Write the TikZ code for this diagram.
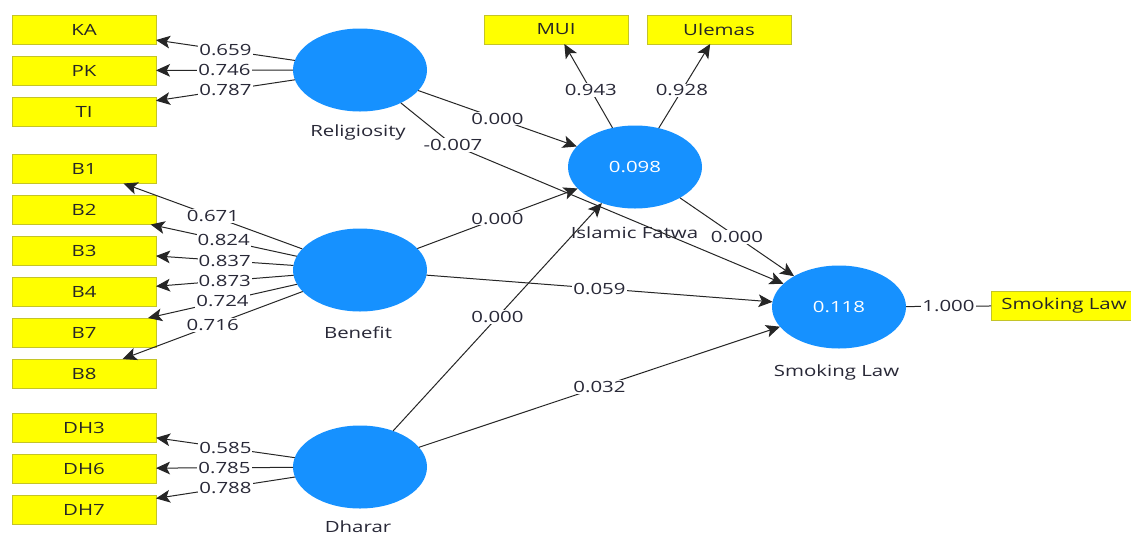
\documentclass[tikz,border=0pt]{standalone}
\usepackage{fontspec}
\setmainfont{Open Sans}[FakeStretch=1.32]
\usetikzlibrary{shapes.geometric,arrows.meta}
\definecolor{lvblue}{RGB}{22,145,255}
\definecolor{ind}{RGB}{255,255,0}
\definecolor{indborder}{RGB}{196,196,40}
\definecolor{txt}{RGB}{40,40,55}
\begin{document}
\begin{tikzpicture}[x=0.75pt,y=-0.75pt,
  font=\fontsize{11.6}{13}\selectfont,
  lv/.style={ellipse, fill=lvblue, minimum width=100.5pt, minimum height=62.25pt, inner sep=0pt, outer sep=0pt, text=white},
  mv/.style={rectangle, fill=ind, draw=indborder, line width=0.6pt, minimum width=108pt, minimum height=21.75pt, inner sep=0pt, outer sep=0pt, text=black!85},
  lvname/.style={text=txt, inner sep=0pt},
  lab/.style={fill=white, inner sep=0.8pt, text=txt},
  conn/.style={draw=black!85, line width=0.75pt, -{Stealth[length=10.5pt,width=9.5pt,inset=2.5pt]}},
  plainconn/.style={draw=black!85, line width=0.75pt}]
\fill[white] (0,0) rectangle (1131,536);
\useasboundingbox (0,0) rectangle (1131,536);
% indicators
\node[mv] (ka) at (84,29.5) {KA};
\node[mv] (pk) at (84,70.5) {PK};
\node[mv] (ti) at (84,111.5) {TI};
\node[mv] (b1) at (84,169) {B1};
\node[mv] (b2) at (84,210) {B2};
\node[mv] (b3) at (84,251) {B3};
\node[mv] (b4) at (84,292) {B4};
\node[mv] (b7) at (84,332.5) {B7};
\node[mv] (b8) at (84,373.5) {B8};
\node[mv] (dh3) at (84,427.5) {DH3};
\node[mv] (dh6) at (84,468.5) {DH6};
\node[mv] (dh7) at (84,509.5) {DH7};
\node[mv] (mui) at (556,29.5) {MUI};
\node[mv] (ule) at (719,29.5) {Ulemas};
\node[mv, anchor=west] (slbox) at (991,305.5) {\hspace{1.5pt}Smoking Law\hspace{4pt}};
% latent variables
\node[lv] (rel) at (360,70) {};
\node[lv] (ben) at (360,270) {};
\node[lv] (dha) at (360,467) {};
\node[lv] (fat) at (635,167) {0.098};
\node[lv] (sl) at (839,307) {0.118};
\node[lvname] (relname) at (358,132) {Religiosity};
\node[lvname] (benname) at (358,333) {Benefit};
\node[lvname] (dhaname) at (358,527) {Dharar};
\node[lvname] (fatname) at (634.5,233) {Islamic Fatwa};
\node[lvname] (slname) at (836.5,372) {Smoking Law};
% outer loadings
\draw[conn] (rel) -- node[lab] (l1) {0.659} (ka);
\draw[conn] (rel) -- node[lab] (l2) {0.746} (pk);
\draw[conn] (rel) -- node[lab] (l3) {0.787} (ti);
\draw[conn] (ben) -- node[lab] (l4) {0.671} (b1);
\draw[conn] (ben) -- node[lab] (l5) {0.824} (b2);
\draw[conn] (ben) -- node[lab] (l6) {0.837} (b3);
\draw[conn] (ben) -- node[lab] (l7) {0.873} (b4);
\draw[conn] (ben) -- node[lab] (l8) {0.724} (b7);
\draw[conn] (ben) -- node[lab] (l9) {0.716} (b8);
\draw[conn] (dha) -- node[lab] (l10) {0.585} (dh3);
\draw[conn] (dha) -- node[lab] (l11) {0.785} (dh6);
\draw[conn] (dha) -- node[lab] (l12) {0.788} (dh7);
\draw[conn] (fat) -- node[lab, pos=0.45] (l13) {0.943} (mui);
\draw[conn] (fat) -- node[lab, pos=0.45] (l14) {0.928} (ule);
\draw[plainconn] (sl) -- node[lab] (l15) {1.000} (slbox);
% structural paths
\coordinate (bend) at (453,145);
\draw[plainconn] (rel) -- (bend);
\draw[conn] (bend) -- (sl);
\node[lab] (l16) at (bend) {-0.007};
\draw[conn] (rel) -- node[lab] (l17) {0.000} (fat);
\draw[conn] (ben) -- node[lab] (l18) {0.000} (fat);
\draw[conn] (dha) -- node[lab] (l19) {0.000} (fat);
\draw[conn] (ben) -- node[lab] (l20) {0.059} (sl);
\draw[conn] (dha) -- node[lab] (l21) {0.032} (sl);
\draw[conn] (fat) -- node[lab] (l22) {0.000} (sl);
\end{tikzpicture}
\end{document}
